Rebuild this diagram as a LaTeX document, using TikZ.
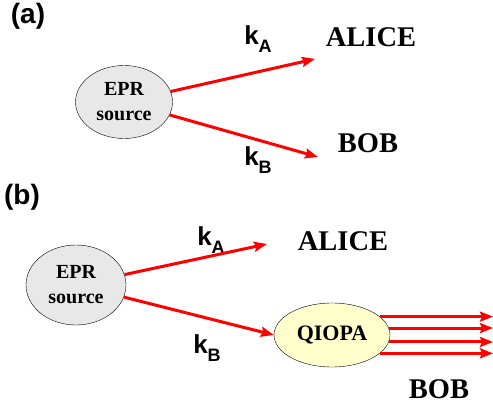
\documentclass[tikz,border=0pt]{standalone}
\usepackage{fontspec}
\setmainfont{Liberation Serif}
\setsansfont{Liberation Sans}
\usepackage{tikz}
\usetikzlibrary{positioning, arrows.meta, shapes.geometric}

\definecolor{beamred}{RGB}{255,0,0}
\definecolor{srcgray}{RGB}{232,232,232}
\definecolor{ampyellow}{RGB}{255,255,204}

% wave vector label, k with a lowered subscript
\newcommand{\wavek}[1]{\sffamily\bfseries\fontsize{26}{26}\selectfont k\raisebox{-8pt}{\fontsize{18}{18}\selectfont #1}}

\begin{document}
\begin{tikzpicture}[
    x=1pt, y=-1pt,
    source/.style={ellipse, draw, thin, fill=srcgray, inner sep=0pt,
        font=\bfseries\fontsize{20}{25}\selectfont, align=center},
    amp/.style={ellipse, draw, thin, fill=ampyellow, inner sep=0pt,
        minimum width=116pt, minimum height=64pt,
        font=\bfseries\fontsize{22}{22}\selectfont},
    party/.style={font=\bfseries\fontsize{28.5}{28.5}\selectfont},
    panel/.style={font=\sffamily\bfseries\fontsize{28}{28}\selectfont},
    beam/.style={draw=beamred, line width=3pt,
        -{Stealth[length=13pt, width=10pt, inset=2pt]}}
]
    \useasboundingbox (0,0) rectangle (493,404);

    % Panel (a)
    \node[panel] (pa) at (28,16) {(a)};
    \node[source, minimum width=97pt, minimum height=73pt] (epra) at (124,102)
        {EPR\\source};
    \coordinate (tipa1) at (315,59);
    \coordinate (tipa2) at (318,157);
    \node[party] (alicea) at (371,37) {ALICE};
    \node[party] (boba) at (368,143) {BOB};
    \node (ka1) at (258,39) {\wavek{A}};
    \node (ka2) at (258,160) {\wavek{B}};
    \draw[beam] (epra) -- (tipa1);
    \draw[beam] (epra) -- (tipa2);

    % Panel (b)
    \node[panel] (pb) at (22,197) {(b)};
    \node[source, minimum width=100pt, minimum height=80pt] (eprb) at (76,285)
        {EPR\\source};
    \coordinate (tipb1) at (267,244);
    \node[amp] (qiopa) at (332,335) {QIOPA};
    \node[party] (aliceb) at (343,241) {ALICE};
    \node[party] (bobb) at (439,389) {BOB};
    \node (kb1) at (211,240) {\wavek{A}};
    \node (kb2) at (207,348) {\wavek{B}};
    \coordinate (out) at (493,335);
    \draw[beam] (eprb) -- (tipb1);
    \draw[beam] (eprb) -- (qiopa.west);

    % Amplified copies sent on to Bob
    \foreach \a in {21,7,-7,-21}
        \draw[beam] (qiopa.\a) -- (qiopa.\a -| out);
\end{tikzpicture}
\end{document}
